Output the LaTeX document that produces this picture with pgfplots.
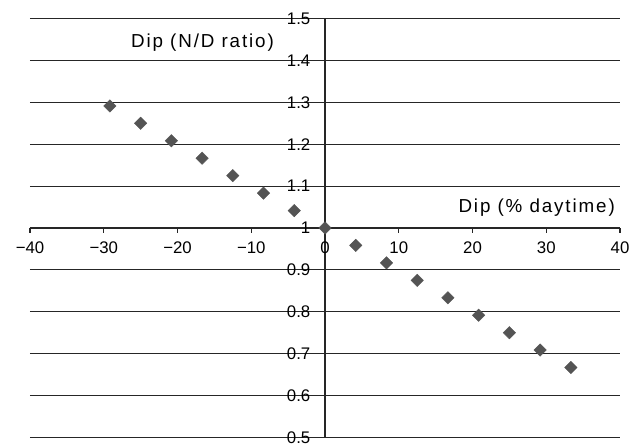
\documentclass[border=0pt]{standalone}
\usepackage{fontspec}
\setmainfont{Liberation Sans}
\newfontfamily\labfont[LetterSpace=10]{Liberation Sans}
\usepackage{pgfplots}
\usepackage{pgfplotstable}
\pgfplotsset{compat=1.18}
\pgfplotstableread{
x y
-29.17 1.2917
-25.00 1.2500
-20.83 1.2083
-16.67 1.1667
-12.50 1.1250
-8.33 1.0833
-4.17 1.0417
0.00 1.0000
4.17 0.9583
8.33 0.9167
12.50 0.8750
16.67 0.8333
20.83 0.7917
25.00 0.7500
29.17 0.7083
33.33 0.6667
}\dipdata
\begin{document}
\begin{tikzpicture}[x=1bp,y=1bp]
\path (-30,-9) rectangle (610,437.3);
\begin{axis}[
  at={(0,0)}, anchor=south west,
  scale only axis, width=590bp, height=418.6bp,
  xmin=-40, xmax=40, ymin=-0.5, ymax=0.5,
  axis lines=middle,
  axis line style={-, line width=1.2bp, black!85},
  xtick={-40,-30,-20,-10,0,10,20,30,40},
  xticklabels={−40,−30,−20,−10,0,10,20,30,40},
  ytick={-0.5,-0.4,-0.3,-0.2,-0.1,0,0.1,0.2,0.3,0.4,0.5},
  yticklabels={0.5,0.6,0.7,0.8,0.9,1,1.1,1.2,1.3,1.4,1.5},
  ymajorgrids,
  grid style={line width=1.2bp, black!85},
  x tick style={line width=1.2bp, black!85},
  y tick style={draw=none},
  tick align=outside,
  major tick length=5bp,
  tick label style={font=\fontsize{16.8bp}{18bp}\selectfont, inner sep=0pt},
  xticklabel style={anchor=north, yshift=-9bp},
  yticklabel style={anchor=east, xshift=-9.5bp},
  hide obscured x ticks=false, hide obscured y ticks=false,
  clip=false,
  y filter/.expression={y-1},
]
\addplot[only marks, mark=square*, mark size=4.4bp,
  mark options={rotate=45, fill=black!67, draw=black!67}] table[x=x,y=y] {\dipdata};
\end{axis}
\node[anchor=base east, inner sep=0pt, font=\labfont\fontsize{18.8bp}{20bp}\selectfont] at (244,389.6) {Dip (N/D ratio)};
\node[anchor=base east, inner sep=0pt, font=\labfont\fontsize{18.8bp}{20bp}\selectfont] at (585,225) {Dip (\% daytime)};
\end{tikzpicture}
\end{document}
